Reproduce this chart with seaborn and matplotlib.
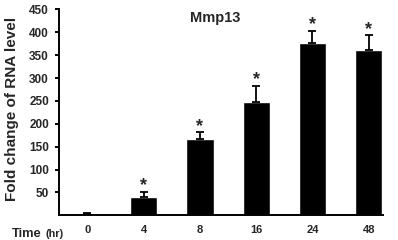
import numpy as np
import pandas as pd
import matplotlib
matplotlib.use("Agg")
import matplotlib.pyplot as plt
import seaborn as sns

# ---------- data ----------
time_labels = ["0", "4", "8", "16", "24", "48"]
fold_change = [3.5, 39, 166, 247, 376, 361]
fold_err = [2, 12, 15, 35, 27, 32]
significant = [False, True, True, True, True, True]
y_ticks = [50, 100, 150, 200, 250, 300, 350, 400, 450]

df = pd.DataFrame({"time": time_labels, "fold": fold_change, "err": fold_err})

sns.set_theme(style="white")
plt.rcParams["font.family"] = ["Liberation Sans", "DejaVu Sans"]
plt.rcParams["font.weight"] = "bold"

fig = plt.figure(figsize=(3.98, 2.40), dpi=100)
ax = fig.add_axes([0.149, 0.103, 0.814, 0.858])

sns.barplot(data=df, x="time", y="fold", order=time_labels, color="black",
            width=0.485, errorbar=None, saturation=1, ax=ax)

xpos = np.arange(len(time_labels))
ax.errorbar(xpos, df["fold"], yerr=[np.zeros(len(df)), df["err"]], fmt="none",
            ecolor="black", elinewidth=1.3, capsize=3.2, capthick=1.3)

for x, m, e, s in zip(xpos, df["fold"], df["err"], significant):
    if s:
        ax.annotate("*", (x, m + e), xytext=(0, 4.5), textcoords="offset points",
                    ha="center", va="center", fontsize=13, fontweight="bold")

ax.set_xlim(-0.5, 5.26)
ax.set_ylim(0, 450)
ax.set_yticks(y_ticks)
ax.set_xlabel("")
ax.set_ylabel("Fold change of RNA level", fontsize=11, fontweight="bold")
ax.yaxis.set_label_coords(-0.125, 0.515)
ax.text(0.48, 0.94, "Mmp13", transform=ax.transAxes, ha="center", va="baseline",
        fontsize=10.5, fontweight="bold")

for side in ["top", "right"]:
    ax.spines[side].set_visible(False)
for side in ["left", "bottom"]:
    ax.spines[side].set_color("black")
    ax.spines[side].set_linewidth(1.4)

ax.tick_params(axis="y", left=True, length=3, width=1.4, color="black",
               labelsize=8.5, pad=4.5)
ax.tick_params(axis="x", bottom=False, length=0, labelsize=8, pad=7)
for lab in ax.get_xticklabels() + ax.get_yticklabels():
    lab.set_fontweight("bold")

fig.text(11.7 / 398, 3.3 / 240, "Time", fontsize=9.3, fontweight="bold", va="baseline")
fig.text(45 / 398, 3.3 / 240, "(hr)", fontsize=7.8, fontweight="bold", va="baseline")

fig.savefig("out.png", dpi=100, facecolor="white")
